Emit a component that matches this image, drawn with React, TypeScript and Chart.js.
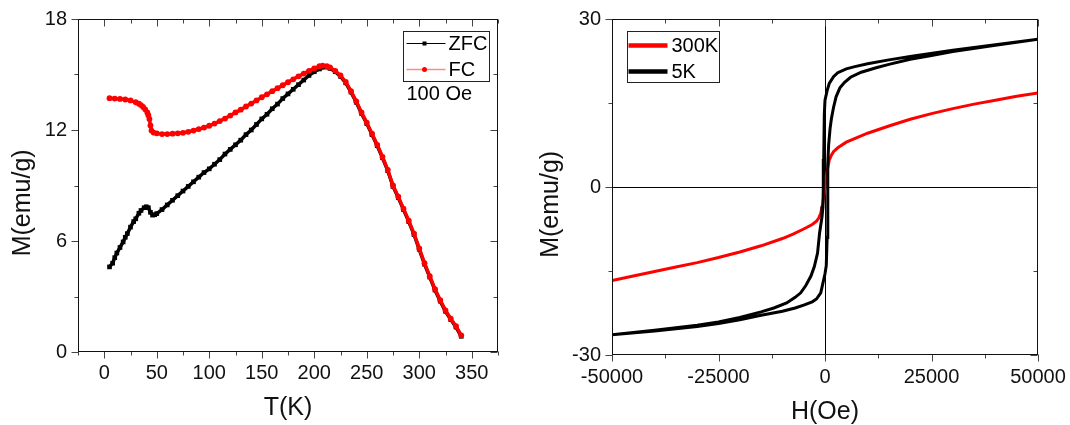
import React, { useEffect, useRef } from 'react';
import { Chart, registerables } from 'chart.js';

Chart.register(...registerables);

const FONT = "'Liberation Sans', Arial, Helvetica, sans-serif";

// ---------- Left panel: M vs T ----------
const tTicks = [0, 50, 100, 150, 200, 250, 300, 350];
const tMinorTicks = [-25, 25, 75, 125, 175, 225, 275, 325, 375];
const mLeftTicks = [0, 6, 12, 18];
const mLeftMinorTicks = [3, 9, 15];

const zfcT = [5, 8, 10, 12, 15, 18, 20, 22, 25, 28, 30, 33, 35, 38, 40, 42, 44, 46, 48, 50, 55, 60, 65, 70, 75, 80, 85, 90, 95, 100, 105, 110, 115, 120, 125, 130, 135, 140, 145, 150, 155, 160, 165, 170, 175, 180, 185, 190, 195, 200, 205, 210, 215, 220, 225, 230, 235, 240, 245, 250, 255, 260, 265, 270, 275, 280, 285, 290, 295, 300, 305, 310, 315, 320, 325, 330, 335, 340];
const zfcM = [4.6, 4.8, 5.1, 5.35, 5.65, 5.95, 6.2, 6.4, 6.75, 7.05, 7.2, 7.5, 7.65, 7.8, 7.85, 7.8, 7.55, 7.4, 7.42, 7.48, 7.7, 7.95, 8.2, 8.45, 8.7, 8.95, 9.2, 9.45, 9.7, 9.9, 10.15, 10.4, 10.7, 10.95, 11.2, 11.45, 11.75, 12.0, 12.3, 12.6, 12.85, 13.15, 13.4, 13.7, 13.95, 14.2, 14.45, 14.7, 14.95, 15.15, 15.3, 15.4, 15.33, 15.15, 14.9, 14.55, 14.05, 13.5, 12.9, 12.35, 11.75, 11.15, 10.5, 9.8, 8.95, 8.35, 7.7, 7.05, 6.35, 5.55, 4.75, 4.05, 3.35, 2.75, 2.2, 1.75, 1.35, 0.85];

const fcT = [5, 10, 15, 20, 25, 30, 33, 35, 37, 39, 41, 42, 43, 44, 45, 47, 50, 55, 60, 65, 70, 75, 80, 85, 90, 95, 100, 105, 110, 115, 120, 125, 130, 135, 140, 145, 150, 155, 160, 165, 170, 175, 180, 185, 190, 195, 200, 205, 208, 212, 215, 220, 225, 230, 235, 240, 245, 250, 255, 260, 265, 270, 275, 280, 285, 290, 295, 300, 305, 310, 315, 320, 325, 330, 335, 340];
const fcM = [13.72, 13.7, 13.68, 13.65, 13.6, 13.5, 13.42, 13.35, 13.25, 13.12, 12.95, 12.8, 12.6, 12.25, 11.97, 11.86, 11.82, 11.78, 11.78, 11.8, 11.82, 11.85, 11.9, 11.97, 12.05, 12.13, 12.23, 12.35, 12.48, 12.62, 12.78, 12.95, 13.1, 13.27, 13.43, 13.6, 13.77, 13.93, 14.1, 14.26, 14.42, 14.58, 14.74, 14.9, 15.05, 15.2, 15.33, 15.45, 15.48, 15.45, 15.38, 15.2, 14.95, 14.6, 14.1, 13.55, 12.95, 12.4, 11.8, 11.2, 10.55, 9.85, 9.0, 8.4, 7.75, 7.1, 6.4, 5.6, 4.8, 4.1, 3.4, 2.8, 2.25, 1.8, 1.4, 0.9];

// ---------- Right panel: M vs H ----------
const hTicks = [-50000, -25000, 0, 25000, 50000];
const hMinorTicks = [-37500, -12500, 12500, 37500];
const mRightTicks = [-30, 0, 30];
const mRightMinorTicks = [-15, 15];

const h300 = [-50000, -45000, -40000, -35000, -30000, -25000, -20000, -15000, -10000, -7500, -5000, -3000, -2000, -1500, -1000, -500, 0, 500, 1000, 1500, 2000, 3000, 5000, 7500, 10000, 15000, 20000, 25000, 30000, 35000, 40000, 45000, 50000];
const m300 = [-16.7, -15.9, -15.1, -14.3, -13.5, -12.6, -11.6, -10.5, -9.2, -8.4, -7.5, -6.7, -6.1, -5.6, -4.7, -2.8, 0, 2.8, 4.8, 5.7, 6.3, 7.0, 8.0, 8.8, 9.6, 10.9, 12.1, 13.1, 14.0, 14.8, 15.5, 16.2, 16.8];

// 5 K loop: descending branch (+50 kOe -> -50 kOe)
const h5Down = [50000, 40000, 30000, 20000, 15000, 10000, 7000, 5000, 3000, 2000, 1000, 500, 0, -160, -300, -400, -480, -700, -1270, -1750, -2500, -3300, -4500, -5700, -7000, -9000, -12000, -15000, -20000, -25000, -30000, -40000, -50000];
const m5Down = [26.4, 25.4, 24.4, 23.3, 22.7, 22.0, 21.5, 21.1, 20.4, 19.7, 18.5, 17.2, 15.5, 13.0, 5.0, 0, -3.5, -5.3, -8.2, -11.8, -14.2, -15.9, -17.6, -18.9, -19.7, -20.7, -21.6, -22.3, -23.3, -24.1, -24.7, -25.6, -26.4];
// 5 K loop: ascending branch (-50 kOe -> +50 kOe)
const h5Up = [-40000, -30000, -25000, -20000, -15000, -10000, -7000, -5000, -3000, -2000, -1000, -500, 0, 300, 500, 600, 700, 850, 1200, 1500, 2000, 2600, 3500, 4600, 6000, 8500, 12000, 15000, 20000, 25000, 30000, 40000, 50000];
const m5Up = [-25.7, -24.9, -24.4, -23.7, -22.9, -22.2, -21.6, -21.1, -20.5, -20.0, -18.9, -17.2, -15.5, -14.0, -9.0, -2.0, 4.0, 7.5, 10.5, 12.2, 14.2, 16.1, 17.7, 18.7, 19.6, 20.5, 21.3, 21.9, 22.8, 23.5, 24.2, 25.3, 26.4];

const pts = (xs: number[], ys: number[]) => xs.map((x, i) => ({ x, y: ys[i] }));

// Frame + tick marks (outward on bottom/left, inward on top/right)
const framePlugin = {
  id: 'frameTicks',
  afterDatasetsDraw(chart: any, _args: any, opts: any) {
    const { ctx, chartArea } = chart;
    const xs = chart.scales.x;
    const ys = chart.scales.y;
    const L = Math.round(chartArea.left) + 0.5;
    const R = Math.round(chartArea.right) - 0.5;
    const T = Math.round(chartArea.top) + 0.5;
    const B = Math.round(chartArea.bottom) - 0.5;
    ctx.save();
    ctx.lineWidth = 1;
    ctx.strokeStyle = '#444';
    const seg = (x1: number, y1: number, x2: number, y2: number) => {
      ctx.beginPath();
      ctx.moveTo(x1, y1);
      ctx.lineTo(x2, y2);
      ctx.stroke();
    };
    const xTick = (vals: number[], len: number) => vals.forEach((v) => {
      const p = Math.round(xs.getPixelForValue(v)) + 0.5;
      seg(p, B, p, B + len);
      seg(p, T, p, T + len);
    });
    const yTick = (vals: number[], len: number) => vals.forEach((v) => {
      const p = Math.round(ys.getPixelForValue(v)) + 0.5;
      seg(L, p, L - len, p);
      seg(R, p, R - len, p);
    });
    xTick(opts.xMajor, 7);
    xTick(opts.xMinor, 4);
    yTick(opts.yMajor, 7);
    yTick(opts.yMinor, 4);
    ctx.strokeStyle = '#111';
    ctx.strokeRect(L, T, R - L, B - T);
    ctx.restore();
  },
};

// Boxed legend drawn inside the plot
const boxLegendPlugin = {
  id: 'boxLegend',
  afterDraw(chart: any, _args: any, opts: any) {
    if (!opts || !opts.items) return;
    const { ctx, chartArea } = chart;
    const bx = Math.round(chartArea.left + opts.x) + 0.5;
    const by = Math.round(chartArea.top + opts.y) + 0.5;
    ctx.save();
    ctx.fillStyle = '#fff';
    ctx.fillRect(bx, by, opts.w, opts.h);
    ctx.strokeStyle = '#222';
    ctx.lineWidth = 1;
    ctx.strokeRect(bx, by, opts.w, opts.h);
    ctx.font = `20px ${FONT}`;
    ctx.textBaseline = 'middle';
    ctx.textAlign = 'left';
    opts.items.forEach((it: any) => {
      const ds = chart.data.datasets[it.dataset];
      const yy = by + it.dy;
      ctx.strokeStyle = it.lineColor;
      ctx.lineWidth = it.lineWidth;
      ctx.beginPath();
      ctx.moveTo(bx + it.x0, yy);
      ctx.lineTo(bx + it.x1, yy);
      ctx.stroke();
      if (it.marker === 'rect') {
        ctx.fillStyle = ds.pointBackgroundColor;
        ctx.fillRect(bx + it.mx - 2, yy - 2, 4, 4);
      } else if (it.marker === 'circle') {
        ctx.fillStyle = ds.pointBackgroundColor;
        ctx.beginPath();
        ctx.arc(bx + it.mx, yy, 2.5, 0, Math.PI * 2);
        ctx.fill();
      }
      ctx.fillStyle = '#000';
      ctx.fillText(ds.label, bx + it.tx, yy + 1);
    });
    if (opts.note) {
      ctx.fillStyle = '#000';
      ctx.fillText(opts.note.text, bx + opts.note.dx, by + opts.note.dy);
    }
    ctx.restore();
  },
};

function axisX(min: number, max: number, ticks: number[], height: number, pad: number, title: string, titlePad: number, zeroLine: boolean) {
  return {
    type: 'linear',
    position: 'bottom',
    min,
    max,
    afterBuildTicks: (s: any) => { s.ticks = ticks.map((v) => ({ value: v })); },
    afterFit: (s: any) => { s.height = height; s.paddingLeft = 0; s.paddingRight = 0; },
    border: { display: false },
    grid: {
      display: zeroLine,
      drawTicks: false,
      lineWidth: 1,
      color: (c: any) => (c.tick && c.tick.value === 0 ? '#000' : 'rgba(0,0,0,0)'),
    },
    ticks: {
      padding: pad,
      autoSkip: false,
      maxRotation: 0,
      color: '#111',
      font: { size: 20, family: FONT },
      callback: (v: any) => String(v),
    },
    title: { display: true, text: title, color: '#111', font: { size: 25, family: FONT, lineHeight: 1 }, padding: { top: 0, bottom: titlePad } },
  };
}

function axisY(min: number, max: number, ticks: number[], width: number, title: string, titlePad: number, zeroLine: boolean) {
  return {
    type: 'linear',
    position: 'left',
    min,
    max,
    afterBuildTicks: (s: any) => { s.ticks = ticks.map((v) => ({ value: v })); },
    afterFit: (s: any) => { s.width = width; s.paddingTop = 0; s.paddingBottom = 0; },
    border: { display: false },
    grid: {
      display: zeroLine,
      drawTicks: false,
      lineWidth: 1,
      color: (c: any) => (c.tick && c.tick.value === 0 ? '#000' : 'rgba(0,0,0,0)'),
    },
    ticks: {
      padding: 11,
      autoSkip: false,
      color: '#111',
      font: { size: 20, family: FONT },
      callback: (v: any) => String(v),
    },
    title: { display: true, text: title, color: '#111', font: { size: 25, family: FONT, lineHeight: 1 }, padding: { top: titlePad, bottom: 0 } },
  };
}

function leftConfig(): any {
  return {
    type: 'scatter',
    data: {
      datasets: [
        {
          label: 'FC',
          data: pts(fcT, fcM),
          showLine: true,
          borderColor: '#ff0000',
          borderWidth: 3.5,
          pointStyle: 'circle',
          pointRadius: 2.9,
          pointBorderWidth: 0,
          pointBackgroundColor: '#ff0000',
        },
        {
          label: 'ZFC',
          data: pts(zfcT, zfcM),
          showLine: true,
          borderColor: '#000000',
          borderWidth: 3.5,
          pointStyle: 'rect',
          pointRadius: 3.3,
          pointBorderWidth: 0,
          pointBackgroundColor: '#000000',
        },
      ],
    },
    options: {
      responsive: false,
      animation: false,
      layout: { padding: { top: 19, right: 37, left: 0, bottom: 0 } },
      scales: {
        x: axisX(-25, 375, tTicks, 73, 9, 'T(K)', 4.5, false),
        y: axisY(0, 18, mLeftTicks, 78, 'M(emu/g)     ', 10.5, false),
      },
      plugins: {
        legend: { display: false },
        tooltip: { enabled: false },
        frameTicks: { xMajor: tTicks, xMinor: tMinorTicks, yMajor: mLeftTicks, yMinor: mLeftMinorTicks },
        boxLegend: {
          x: 325, y: 12, w: 86, h: 50,
          items: [
            { dataset: 1, dy: 12, x0: 3, x1: 42, mx: 21, tx: 45, lineColor: '#000', lineWidth: 1, marker: 'rect' },
            { dataset: 0, dy: 38, x0: 3, x1: 42, mx: 21, tx: 45, lineColor: '#ff8a8a', lineWidth: 1.5, marker: 'circle' },
          ],
          note: { text: '100 Oe', dx: 3, dy: 63 },
        },
      },
    },
    plugins: [framePlugin, boxLegendPlugin],
  };
}

function rightConfig(): any {
  return {
    type: 'scatter',
    data: {
      datasets: [
        {
          label: '5K',
          data: pts(h5Down.concat(h5Up), m5Down.concat(m5Up)),
          showLine: true,
          borderColor: '#000000',
          borderWidth: 3,
          pointRadius: 0,
          tension: 0,
        },
        {
          label: '300K',
          data: pts(h300, m300),
          showLine: true,
          borderColor: '#ff0000',
          borderWidth: 3,
          pointRadius: 0,
          tension: 0,
        },
      ],
    },
    options: {
      responsive: false,
      animation: false,
      layout: { padding: { top: 19, right: 32, left: 0, bottom: 0 } },
      scales: {
        x: axisX(-50000, 50000, hTicks, 70, 10, 'H(Oe)', 0.5, true),
        y: axisY(-30, 30, mRightTicks, 77, 'M(emu/g)     ', 3.5, true),
      },
      plugins: {
        legend: { display: false },
        tooltip: { enabled: false },
        frameTicks: { xMajor: hTicks, xMinor: hMinorTicks, yMajor: mRightTicks, yMinor: mRightMinorTicks },
        boxLegend: {
          x: 15, y: 12, w: 92, h: 51,
          items: [
            { dataset: 1, dy: 14, x0: 1, x1: 40, tx: 44, lineColor: '#ff0000', lineWidth: 4.5 },
            { dataset: 0, dy: 40, x0: 1, x1: 40, tx: 44, lineColor: '#000000', lineWidth: 4.5 },
          ],
        },
      },
    },
    plugins: [framePlugin, boxLegendPlugin],
  };
}

export default function App() {
  const leftRef = useRef<HTMLCanvasElement>(null);
  const rightRef = useRef<HTMLCanvasElement>(null);

  useEffect(() => {
    const c1 = new Chart(leftRef.current as HTMLCanvasElement, leftConfig());
    const c2 = new Chart(rightRef.current as HTMLCanvasElement, rightConfig());
    return () => {
      c1.destroy();
      c2.destroy();
    };
  }, []);

  return (
    <div style={{ position: 'absolute', left: 0, top: 0, width: 1070, height: 425, background: '#fff' }}>
      <canvas ref={leftRef} width={535} height={425} style={{ position: 'absolute', left: 0, top: 0, width: 535, height: 425 }} />
      <canvas ref={rightRef} width={535} height={425} style={{ position: 'absolute', left: 535, top: 0, width: 535, height: 425 }} />
    </div>
  );
}
